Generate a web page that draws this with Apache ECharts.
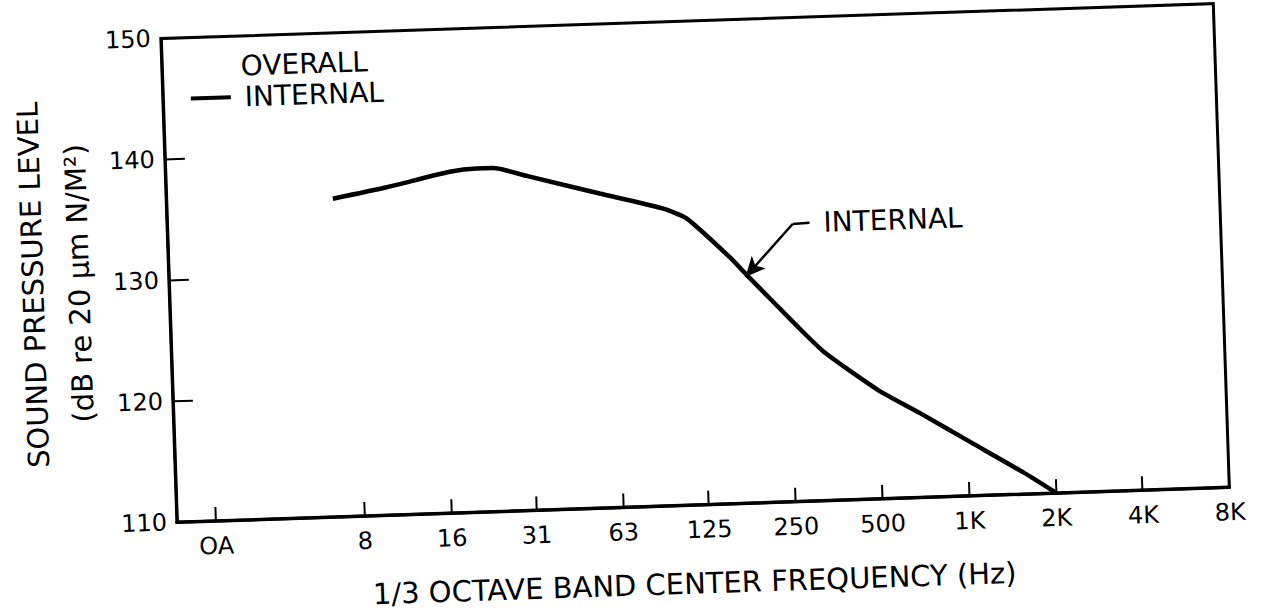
<!DOCTYPE html>
<html>
<head>
<meta charset="utf-8">
<script src="https://cdn.jsdelivr.net/npm/echarts@6/dist/echarts.min.js"></script>
<style>
  html, body { margin: 0; padding: 0; background: #fff; overflow: hidden; }
  #chart { width: 1268px; height: 613px; transform: rotate(-1.9deg); transform-origin: 50% 50%; }
</style>
</head>
<body>
<div id="chart"></div>
<script>
// ---- data ----
const tickLabels = ['OA', '8', '16', '31', '63', '125', '250', '500', '1K', '2K', '4K', '8K'];
const tickFreqs  = [2.437, 8, 16, 31.5, 63, 125, 250, 500, 1000, 2000, 4000, 8000];
const freqs  = [6.75, 10.4, 17.3, 21.4, 24.4, 31.9, 56.8, 93.5, 113, 157.5, 179.5, 269, 330, 498, 689, 1034, 1553, 1984];
const levels = [136.3, 137.1, 138.2, 138.4, 138.4, 137.65, 136.0, 134.6, 133.7, 130.4, 128.9, 124.35, 122.2, 119.0, 117.0, 114.4, 111.8, 110.1];
const seriesName = 'INTERNAL';
const legendTitle = 'OVERALL';
// annotation: label anchor, elbow, arrow tip (data coords)
const annLabel = [301, 133.0];
const annElbow = [263, 132.95];
const annTip   = [178, 128.7];

const FONT = 'DejaVu Sans';
const chart = echarts.init(document.getElementById('chart'), null, { renderer: 'svg' });

function labelFor(v) {
  let best = 0, bd = Infinity;
  tickFreqs.forEach((f, i) => { const d = Math.abs(Math.log(v / f)); if (d < bd) { bd = d; best = i; } });
  return tickLabels[best];
}

chart.setOption({
  backgroundColor: '#fff',
  animation: false,
  title: {
    text: legendTitle, left: 244, top: 34,
    textStyle: { fontFamily: FONT, fontSize: 28, fontWeight: 'normal', color: '#000' }
  },
  legend: {
    data: [seriesName], left: 193, top: 65,
    icon: 'rect', itemWidth: 40, itemHeight: 4,
    formatter: ' {name}',
    textStyle: { fontFamily: FONT, fontSize: 28, color: '#000' }
  },
  grid: { left: 170, right: 45, top: 23, bottom: 106, show: true, borderColor: '#000', borderWidth: 3, backgroundColor: 'transparent' },
  xAxis: {
    type: 'log', logBase: 2, min: 1.786, max: 8000,
    name: '1/3 OCTAVE BAND CENTER FREQUENCY (Hz)',
    nameLocation: 'middle', nameGap: 64,
    nameTextStyle: { fontFamily: FONT, fontSize: 29, color: '#000', padding: [0, 22, 0, 0] },
    axisLine: { lineStyle: { color: '#000', width: 3.5 } },
    axisTick: { show: true, inside: true, length: 14, customValues: tickFreqs, lineStyle: { color: '#000', width: 2 } },
    axisLabel: { customValues: tickFreqs, formatter: labelFor, fontFamily: FONT, fontSize: 24, color: '#000', margin: 13 },
    splitLine: { show: false },
    minorTick: { show: false }
  },
  yAxis: {
    type: 'value', min: 110, max: 150, interval: 10,
    name: 'SOUND PRESSURE LEVEL\n(dB re 20 μm N/M²)',
    nameLocation: 'middle', nameRotate: 90, nameGap: 55,
    nameTextStyle: { fontFamily: FONT, fontSize: 29, color: '#000', lineHeight: 46 },
    axisLine: { show: true, lineStyle: { color: '#000', width: 3 } },
    axisTick: { show: true, inside: true, length: 20, lineStyle: { color: '#000', width: 2 } },
    axisLabel: { fontFamily: FONT, fontSize: 24, color: '#000', margin: 10 },
    splitLine: { show: false }
  },
  series: [{
    name: seriesName,
    type: 'line',
    data: freqs.map((f, i) => [f, levels[i]]),
    showSymbol: false, symbol: 'none',
    smooth: 0.2,
    lineStyle: { color: '#000', width: 4.5 },
    itemStyle: { color: '#000' },
    markLine: {
      silent: true, animation: false,
      symbol: ['none', 'none'],
      label: { show: false },
      lineStyle: { color: '#000', width: 2.5, type: 'solid' },
      data: [
        [{ coord: annLabel }, { coord: annElbow }],
        [{ coord: annElbow }, { coord: annTip, symbol: 'arrow', symbolSize: [14, 20] }]
      ]
    },
    markPoint: {
      silent: true, animation: false,
      symbol: 'circle', symbolSize: 0,
      data: [{ coord: annLabel }],
      label: { show: true, position: 'right', distance: 14, formatter: seriesName, fontFamily: FONT, fontSize: 28, color: '#000' }
    }
  }]
});
</script>
</body>
</html>
